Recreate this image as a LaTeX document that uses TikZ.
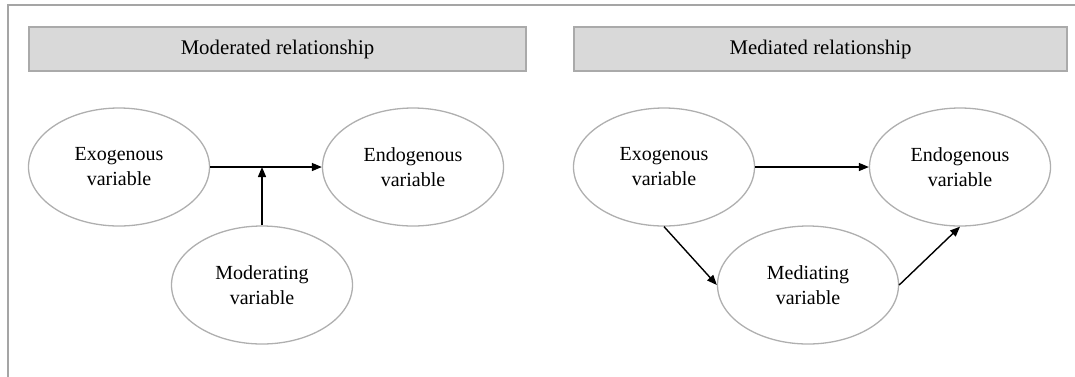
\documentclass[tikz,border=0pt]{standalone}
\usepackage{fontspec}
\setmainfont{Liberation Serif}
\usetikzlibrary{shapes.geometric,arrows.meta}
\definecolor{framegray}{RGB}{165,165,165}
\definecolor{headfill}{RGB}{217,217,217}
\definecolor{headline}{RGB}{170,170,170}
\definecolor{ovalline}{RGB}{175,175,175}
\begin{document}
\begin{tikzpicture}[x=1pt,y=-1pt,
  header/.style={draw=headline,fill=headfill,line width=1.5pt,inner sep=0pt,
    font=\fontsize{20.8}{24}\selectfont},
  oval/.style={ellipse,draw=ovalline,line width=1.3pt,inner sep=0pt,
    minimum width=181pt,minimum height=118pt,align=center,
    font=\fontsize{20}{25}\selectfont},
  link/.style={line width=1.4pt,-{Triangle[length=10pt,width=8pt]}}]
\useasboundingbox (0,0) rectangle (1075,376);
% outer frame
\draw[framegray,line width=1.5pt] (8,380) -- (8,5) -- (1080,5);
% headers
\node[header,minimum width=497pt,minimum height=44pt] (hl) at (277.5,49) {Moderated relationship};
\node[header,minimum width=493pt,minimum height=44pt] (hr) at (820.5,49) {Mediated relationship};
% moderated relationship
\node[oval] (exoA) at (119,167) {Exogenous\\variable};
\node[oval] (endoA) at (413,167) {Endogenous\\variable};
\node[oval] (mod) at (262,285) {Moderating\\variable};
\coordinate (joint) at (mod.north |- exoA.east);
\draw[link] (exoA.east) -- (endoA.west);
\draw[link] (mod.north) -- (joint);
% mediated relationship
\node[oval] (exoB) at (664,167) {Exogenous\\variable};
\node[oval] (endoB) at (960,167) {Endogenous\\variable};
\node[oval] (med) at (808,285) {Mediating\\variable};
\draw[link] (exoB.east) -- (endoB.west);
\draw[link] (exoB.south) -- (med.west);
\draw[link] (med.east) -- (endoB.south);
\end{tikzpicture}
\end{document}
